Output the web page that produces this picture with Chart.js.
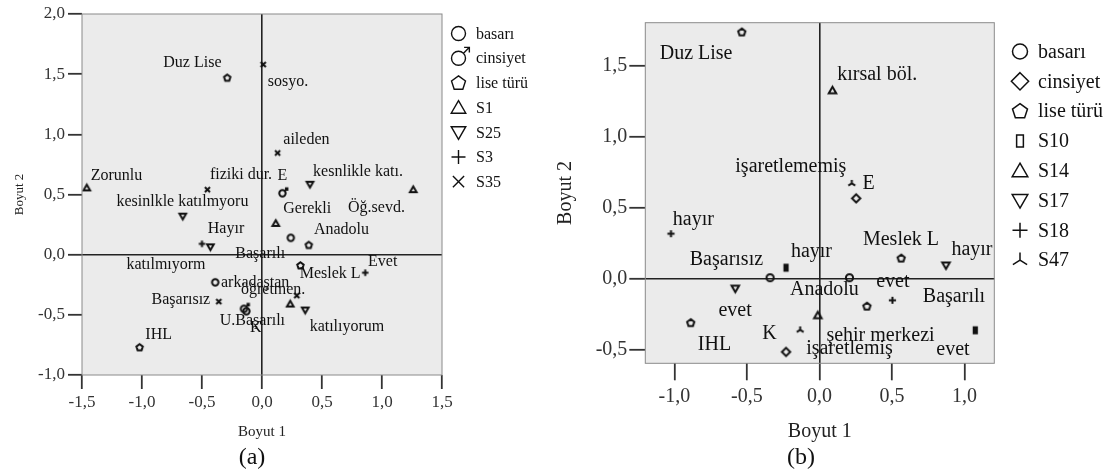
<!DOCTYPE html>
<html>
<head>
<meta charset="utf-8">
<script src="https://cdn.jsdelivr.net/npm/chart.js@4"></script>
<style>
html, body { margin: 0; padding: 0; background: #fff; }
#wrap { position: relative; width: 1113px; height: 476px; overflow: hidden; }
#chart-a { position: absolute; left: 0; top: 0; }
#chart-b { position: absolute; left: 540px; top: 0; }
.cap { position: absolute; top: 442px; font-family: "Liberation Serif", "Times New Roman", serif; font-size: 24px; line-height: 28px; color: #111; transform: translateX(-50%); }
</style>
</head>
<body>
<div id="wrap">
    <canvas id="chart-a" width="540" height="476"></canvas>
    <canvas id="chart-b" width="573" height="476"></canvas>
    <div class="cap" style="left:252px">(a)</div>
    <div class="cap" style="left:801px">(b)</div>
</div>
<script>
'use strict';

// ---- chart (a) data ----
var seriesA = ['basarı', 'cinsiyet', 'lise türü', 'S1', 'S25', 'S3', 'S35'];
var aBasari = [[0.24, 0.14], [-0.39, -0.23], [-0.13, -0.47]];
var aCinsiyet = [[0.17, 0.51], [-0.15, -0.45]];
var aLiseTuru = [[-0.29, 1.47], [-1.02, -0.77], [0.39, 0.08], [0.32, -0.09]];
var aS1 = [[-1.46, 0.555], [1.26, 0.54], [0.115, 0.26], [0.235, -0.41]];
var aS25 = [[-0.66, 0.32], [0.40, 0.585], [-0.43, 0.065], [0.36, -0.46]];
var aS3 = [[-0.50, 0.09], [0.86, -0.15]];
var aS35 = [[0.01, 1.58], [0.13, 0.845], [-0.455, 0.54], [0.29, -0.34], [-0.36, -0.39]];
var aTicksX = [-1.5, -1.0, -0.5, 0, 0.5, 1.0, 1.5];
var aTicksY = [-1.0, -0.5, 0, 0.5, 1.0, 1.5, 2.0];
var aLabelText = ['Duz Lise', 'sosyo.', 'aileden', 'Zorunlu', 'fiziki dur.', 'E', 'kesnlikle katı.',
    'kesinlkle katılmyoru', 'Gerekli', 'Öğ.sevd.', 'Hayır', 'Anadolu', 'Başarılı', 'katılmıyorm',
    'Evet', 'Meslek L', 'arkadaştan', 'öğretmen.', 'Başarısız', 'U.Başarılı', 'K', 'katılıyorum', 'IHL'];
var aLabelX = [-0.58, 0.217, 0.37, -1.213, -0.175, 0.17, 0.80, -0.663, 0.377, 0.954, -0.30, 0.6625,
    -0.015, -0.80, 1.006, 0.568, -0.057, 0.093, -0.676, -0.08, -0.0525, 0.708, -0.861];
var aLabelY = [1.594, 1.435, 0.954, 0.657, 0.662, 0.654, 0.69, 0.44, 0.385, 0.393, 0.218, 0.204,
    0.004, -0.0875, -0.06, -0.1625, -0.232, -0.296, -0.373, -0.546, -0.607, -0.60, -0.665];

// ---- chart (b) data ----
var seriesB = ['basarı', 'cinsiyet', 'lise türü', 'S10', 'S14', 'S17', 'S18', 'S47'];
var bBasari = [[-0.34, 0.007], [0.207, 0.007]];
var bCinsiyet = [[0.253, 0.565], [-0.23, -0.515]];
var bLiseTuru = [[-0.535, 1.734], [-0.887, -0.31], [0.563, 0.144], [0.327, -0.194]];
var bS10 = [[-0.23, 0.077], [1.074, -0.363]];
var bS14 = [[0.09, 1.325], [-0.011, -0.257]];
var bS17 = [[-0.58, -0.07], [0.872, 0.093]];
var bS18 = [[-1.023, 0.316], [0.503, -0.152]];
var bS47 = [[0.223, 0.67], [-0.133, -0.36]];
var bTicksX = [-1.0, -0.5, 0, 0.5, 1.0];
var bTicksY = [-0.5, 0, 0.5, 1.0, 1.5];
var bLabelText = ['Duz Lise', 'kırsal böl.', 'işaretlememiş', 'E', 'hayır', 'Başarısız', 'hayır',
    'Meslek L', 'hayır', 'Anadolu', 'evet', 'Başarılı', 'evet', 'IHL', 'K', 'şehir merkezi',
    'işaretlemiş', 'evet'];
var bLabelX = [-0.85, 0.398, -0.197, 0.338, -0.869, -0.641, -0.055, 0.562, 1.051, 0.034, 0.506,
    0.927, -0.581, -0.723, -0.345, 0.421, 0.207, 0.92];
var bLabelY = [1.585, 1.433, 0.79, 0.67, 0.416, 0.133, 0.187, 0.273, 0.205, -0.075, -0.024,
    -0.129, -0.222, -0.468, -0.39, -0.398, -0.491, -0.503];

var FONT = '"Liberation Serif", "Times New Roman", serif';
var INK = '#111';

function fmtTick(v) { return Number(v).toFixed(1).replace('.', ','); }

function drawShape(ctx, shape, x, y, r, lw, solid) {
    var i, a, R, d, t;
    ctx.save();
    ctx.strokeStyle = INK; ctx.fillStyle = INK; ctx.lineWidth = lw;
    ctx.beginPath();
    if (shape === 'circle') {
        ctx.arc(x, y, r, 0, Math.PI * 2);
    } else if (shape === 'male') {
        ctx.arc(x, y, r, 0, Math.PI * 2);
        d = r * 0.72; t = r * 1.55;
        ctx.moveTo(x + d, y - d); ctx.lineTo(x + t, y - t);
        ctx.moveTo(x + t - r * 0.75, y - t); ctx.lineTo(x + t, y - t); ctx.lineTo(x + t, y - t + r * 0.75);
    } else if (shape === 'diamond') {
        R = r * 1.15;
        ctx.moveTo(x, y - R); ctx.lineTo(x + R, y); ctx.lineTo(x, y + R); ctx.lineTo(x - R, y); ctx.closePath();
    } else if (shape === 'pentagon') {
        R = r * 1.05;
        for (i = 0; i < 5; i++) {
            a = -Math.PI / 2 + i * Math.PI * 2 / 5;
            if (i === 0) ctx.moveTo(x + R * Math.cos(a), y + R * Math.sin(a) + r * 0.05);
            else ctx.lineTo(x + R * Math.cos(a), y + R * Math.sin(a) + r * 0.05);
        }
        ctx.closePath();
    } else if (shape === 'triUp' || shape === 'triDown') {
        R = r * 1.2;
        var s = shape === 'triUp' ? 1 : -1;
        [-90, 30, 150].forEach(function(deg, k) {
            var ang = deg * Math.PI / 180;
            var px = x + R * Math.cos(ang), py = y + s * (R * Math.sin(ang) + r * 0.2);
            if (k === 0) ctx.moveTo(px, py); else ctx.lineTo(px, py);
        });
        ctx.closePath();
    } else if (shape === 'plus') {
        ctx.moveTo(x - r, y); ctx.lineTo(x + r, y); ctx.moveTo(x, y - r); ctx.lineTo(x, y + r);
    } else if (shape === 'cross') {
        d = r * 0.8;
        ctx.moveTo(x - d, y - d); ctx.lineTo(x + d, y + d); ctx.moveTo(x + d, y - d); ctx.lineTo(x - d, y + d);
    } else if (shape === 'bar') {
        ctx.rect(x - r * 0.45, y - r * 0.8, r * 0.9, r * 1.6);
    } else if (shape === 'tripod') {
        ctx.moveTo(x, y - r); ctx.lineTo(x, y);
        ctx.moveTo(x - r * 0.95, y + r * 0.6); ctx.lineTo(x, y); ctx.lineTo(x + r * 0.95, y + r * 0.6);
    }
    if (solid) ctx.fill();
    ctx.stroke();
    ctx.restore();
}

function makeMarker(shape, r, lw) {
    var size = Math.ceil(r * 4 + lw * 2 + 2);
    var c = document.createElement('canvas');
    c.width = size; c.height = size;
    drawShape(c.getContext('2d'), shape, size / 2, size / 2, r, lw, shape === 'bar');
    return c;
}

// plot background + frame
var plotFrame = {
    id: 'plotFrame',
    beforeDraw: function(chart) {
        var a = chart.chartArea, ctx = chart.ctx;
        ctx.save(); ctx.fillStyle = '#ebebeb';
        ctx.fillRect(a.left, a.top, a.right - a.left, a.bottom - a.top);
        ctx.restore();
    },
    afterDraw: function(chart) {
        var a = chart.chartArea, ctx = chart.ctx;
        ctx.save(); ctx.strokeStyle = '#8a8a8a'; ctx.lineWidth = 1;
        ctx.strokeRect(a.left, a.top, a.right - a.left, a.bottom - a.top);
        ctx.restore();
    }
};

function labelPlugin(texts, xs, ys, size) {
    return {
        id: 'pointLabels',
        afterDatasetsDraw: function(chart) {
            var ctx = chart.ctx, sx = chart.scales.x, sy = chart.scales.y;
            ctx.save();
            ctx.font = size + 'px ' + FONT; ctx.fillStyle = INK;
            ctx.textAlign = 'center'; ctx.textBaseline = 'middle';
            texts.forEach(function(t, i) {
                ctx.fillText(t, sx.getPixelForValue(xs[i]), sy.getPixelForValue(ys[i]));
            });
            ctx.restore();
        }
    };
}

function legendPlugin(names, shapes, lg) {
    return {
        id: 'sideLegend',
        afterDraw: function(chart) {
            var ctx = chart.ctx;
            ctx.save();
            ctx.font = lg.size + 'px ' + FONT; ctx.fillStyle = INK;
            ctx.textAlign = 'left'; ctx.textBaseline = 'middle';
            names.forEach(function(n, i) {
                var y = lg.y + i * lg.step;
                drawShape(ctx, shapes[i], lg.x, y, lg.r, lg.lw, false);
                ctx.fillText(n, lg.textX, y + 1);
            });
            ctx.restore();
        }
    };
}

function axis(pos, min, max, ticks, ax) {
    return {
        type: 'linear', position: pos, min: min, max: max,
        afterBuildTicks: function(s) { s.ticks = ticks.map(function(v) { return { value: v }; }); },
        afterFit: function(s) { if (pos === 'left') s.width = ax.size; else s.height = ax.size; },
        ticks: { font: { family: FONT, size: ax.tickSize }, color: '#333', padding: ax.pad,
                 callback: fmtTick, autoSkip: false, maxRotation: 0 },
        grid: {
            drawOnChartArea: true,
            color: function(c) { return c.tick && c.tick.value === 0 ? '#222' : 'rgba(0,0,0,0)'; },
            lineWidth: 1.6, tickColor: '#333', tickWidth: 1.8, tickLength: ax.tickLen
        },
        border: { display: false },
        title: { display: true, text: ax.title, color: '#222', font: { family: FONT, size: ax.titleSize },
                 padding: pos === 'left' ? { top: ax.titlePad, bottom: 0 } : { top: 0, bottom: ax.titlePad } }
    };
}

function buildChart(id, o) {
    var datasets = o.series.map(function(pts, i) {
        return {
            label: o.names[i],
            data: pts.map(function(p) { return { x: p[0], y: p[1] }; }),
            pointStyle: makeMarker(o.shapes[i], o.markR, o.markLw),
            pointRadius: 4, showLine: false
        };
    });
    return new Chart(document.getElementById(id), {
        type: 'scatter',
        data: { datasets: datasets },
        options: {
            responsive: false, animation: false, events: [],
            layout: { padding: o.padding },
            plugins: { legend: { display: false }, tooltip: { enabled: false } },
            scales: { x: o.x, y: o.y }
        },
        plugins: [plotFrame, labelPlugin(o.labels[0], o.labels[1], o.labels[2], o.labelSize),
                  legendPlugin(o.names, o.shapes, o.legend)]
    });
}

document.addEventListener('DOMContentLoaded', function() {
    buildChart('chart-a', {
        names: seriesA,
        series: [aBasari, aCinsiyet, aLiseTuru, aS1, aS25, aS3, aS35],
        shapes: ['circle', 'male', 'pentagon', 'triUp', 'triDown', 'plus', 'cross'],
        markR: 3.2, markLw: 2,
        labels: [aLabelText, aLabelX, aLabelY], labelSize: 16,
        padding: { left: 0, right: 98, top: 14, bottom: 0 },
        x: axis('bottom', -1.5, 1.5, aTicksX, { size: 101, tickSize: 17, pad: 3, tickLen: 14, title: 'Boyut 1', titleSize: 15, titlePad: 35 }),
        y: axis('left', -1.0, 2.0, aTicksY, { size: 82, tickSize: 17, pad: 3, tickLen: 14, title: 'Boyut 2', titleSize: 13, titlePad: 12 }),
        legend: { x: 458.5, textX: 476, y: 33.5, step: 24.7, r: 7, lw: 1.4, size: 16 }
    });

    buildChart('chart-b', {
        names: seriesB,
        series: [bBasari, bCinsiyet, bLiseTuru, bS10, bS14, bS17, bS18, bS47],
        shapes: ['circle', 'diamond', 'pentagon', 'bar', 'triUp', 'triDown', 'plus', 'tripod'],
        markR: 3.6, markLw: 2,
        labels: [bLabelText, bLabelX, bLabelY], labelSize: 20,
        padding: { left: 0, right: 118.7, top: 22.7, bottom: 0 },
        x: axis('bottom', -1.2, 1.205, bTicksX, { size: 112.7, tickSize: 20, pad: 4, tickLen: 17, title: 'Boyut 1', titleSize: 20, titlePad: 32 }),
        y: axis('left', -0.595, 1.8, bTicksY, { size: 105.3, tickSize: 20, pad: 2, tickLen: 16, title: 'Boyut 2', titleSize: 20, titlePad: 14 }),
        legend: { x: 480, textX: 498, y: 51.5, step: 29.8, r: 7.5, lw: 1.5, size: 20 }
    });
});
</script>
</body>
</html>
